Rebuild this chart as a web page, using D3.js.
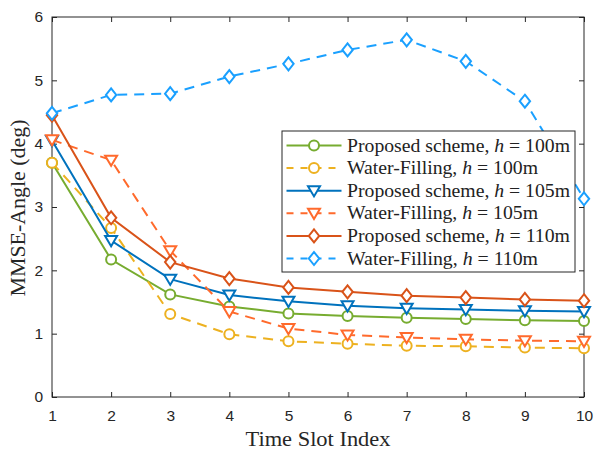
<!DOCTYPE html>
<html>
<head>
<meta charset="utf-8">
<script src="https://cdn.jsdelivr.net/npm/d3@7"></script>
<style>
  body { margin: 0; background: #fff; }
  svg { display: block; }
</style>
</head>
<body>
<svg id="chart"></svg>
<script>
// data
const slots = [1, 2, 3, 4, 5, 6, 7, 8, 9, 10];
const propH100 = [3.70, 2.17, 1.62, 1.43, 1.32, 1.28, 1.25, 1.23, 1.21, 1.20];
const wfH100   = [3.70, 2.67, 1.31, 0.99, 0.88, 0.84, 0.81, 0.80, 0.78, 0.77];
const propH105 = [4.05, 2.47, 1.86, 1.61, 1.51, 1.44, 1.40, 1.38, 1.36, 1.35];
const wfH105   = [4.06, 3.74, 2.31, 1.35, 1.08, 0.98, 0.94, 0.91, 0.89, 0.88];
const propH110 = [4.45, 2.83, 2.13, 1.87, 1.73, 1.66, 1.60, 1.57, 1.54, 1.52];
const wfH110   = [4.48, 4.77, 4.79, 5.06, 5.26, 5.48, 5.64, 5.30, 4.67, 3.13];
const xTicks = [1, 2, 3, 4, 5, 6, 7, 8, 9, 10];
const yTicks = [0, 1, 2, 3, 4, 5, 6];

const series = [
  { name: "Proposed scheme", h: "100m", values: propH100, color: "#77AC30", dash: null, marker: "circle" },
  { name: "Water-Filling", h: "100m", values: wfH100, color: "#EDB120", dash: "10,7", marker: "circle" },
  { name: "Proposed scheme", h: "105m", values: propH105, color: "#0072BD", dash: null, marker: "tri" },
  { name: "Water-Filling", h: "105m", values: wfH105, color: "#FF6A2C", dash: "10,7", marker: "tri" },
  { name: "Proposed scheme", h: "110m", values: propH110, color: "#D95319", dash: null, marker: "diamond" },
  { name: "Water-Filling", h: "110m", values: wfH110, color: "#1AA0FF", dash: "10,7", marker: "diamond" },
];

/***********************
 * dimensions
 ************************/
const width = 595, height = 451;
const margin = { top: 17, right: 11, bottom: 54, left: 52 };

const svg = d3.select("#chart")
  .attr("width", width)
  .attr("height", height)
  .attr("viewBox", [0, 0, width, height]);

const x = d3.scaleLinear().domain([1, 10]).range([margin.left, width - margin.right]);
const y = d3.scaleLinear().domain([0, 6]).range([height - margin.bottom, margin.top]);

const axisColor = "#262626";
const tickFont = "'Liberation Sans', Arial, sans-serif";
const serif = "'Liberation Serif', 'Times New Roman', serif";

/***********************
 * axes (box with inner ticks)
 ************************/
const tickLen = 5;
const axG = svg.append("g").attr("class", "axes");

const xAxis = d3.axisBottom(x).tickValues(xTicks).tickFormat(d3.format("d"))
  .tickSizeInner(-tickLen).tickSizeOuter(0).tickPadding(13);
axG.append("g").attr("transform", `translate(0,${y(0)})`).call(xAxis)
  .call(g => g.select(".domain").remove())
  .call(g => g.selectAll("text").attr("font-family", tickFont).attr("font-size", 15.5).attr("fill", axisColor))
  .call(g => g.selectAll("line").attr("stroke", axisColor));

const xTop = d3.axisTop(x).tickValues(xTicks).tickSizeInner(-tickLen).tickSizeOuter(0).tickFormat("");
axG.append("g").attr("transform", `translate(0,${y(6)})`).call(xTop)
  .call(g => g.select(".domain").remove())
  .call(g => g.selectAll("line").attr("stroke", axisColor));

const yAxis = d3.axisLeft(y).tickValues(yTicks).tickFormat(d3.format("d"))
  .tickSizeInner(-tickLen).tickSizeOuter(0).tickPadding(9);
axG.append("g").attr("transform", `translate(${x(1)},0)`).call(yAxis)
  .call(g => g.select(".domain").remove())
  .call(g => g.selectAll("text").attr("font-family", tickFont).attr("font-size", 15.5).attr("fill", axisColor))
  .call(g => g.selectAll("line").attr("stroke", axisColor));

const yRight = d3.axisRight(y).tickValues(yTicks).tickSizeInner(-tickLen).tickSizeOuter(0).tickFormat("");
axG.append("g").attr("transform", `translate(${x(10)},0)`).call(yRight)
  .call(g => g.select(".domain").remove())
  .call(g => g.selectAll("line").attr("stroke", axisColor));

axG.append("rect")
  .attr("x", x(1)).attr("y", y(6))
  .attr("width", x(10) - x(1)).attr("height", y(0) - y(6))
  .attr("fill", "none").attr("stroke", axisColor).attr("stroke-width", 1);

// axis labels
svg.append("text")
  .attr("x", (x(1) + x(10)) / 2).attr("y", 446)
  .attr("text-anchor", "middle")
  .attr("font-family", serif).attr("font-size", 21).attr("fill", axisColor)
  .attr("textLength", 145).attr("lengthAdjust", "spacingAndGlyphs")
  .text("Time Slot Index");

svg.append("text")
  .attr("transform", `translate(25,${(y(0) + y(6)) / 2 + 1}) rotate(-90)`)
  .attr("text-anchor", "middle")
  .attr("font-family", serif).attr("font-size", 21).attr("fill", axisColor)
  .attr("textLength", 177).attr("lengthAdjust", "spacingAndGlyphs")
  .text("MMSE-Angle (deg)");

/***********************
 * markers
 ************************/
function drawMarker(g, type, cx, cy, color) {
  if (type === "circle") {
    g.append("circle").attr("cx", cx).attr("cy", cy).attr("r", 5)
      .attr("fill", "#fff").attr("stroke", color).attr("stroke-width", 2);
  } else if (type === "tri") {
    const s = 6;
    g.append("path")
      .attr("d", `M${cx - s},${cy - s * 0.75}L${cx + s},${cy - s * 0.75}L${cx},${cy + s * 0.95}Z`)
      .attr("fill", "#fff").attr("stroke", color).attr("stroke-width", 2);
  } else {
    const s = 6.5;
    g.append("path")
      .attr("d", `M${cx},${cy - s}L${cx + s * 0.8},${cy}L${cx},${cy + s}L${cx - s * 0.8},${cy}Z`)
      .attr("fill", "#fff").attr("stroke", color).attr("stroke-width", 2);
  }
}

/***********************
 * lines
 ************************/
const line = d3.line().x((d, i) => x(slots[i])).y(d => y(d));
const plotG = svg.append("g");

series.forEach(s => {
  const g = plotG.append("g");
  g.append("path")
    .datum(s.values)
    .attr("d", line)
    .attr("fill", "none")
    .attr("stroke", s.color)
    .attr("stroke-width", 2)
    .attr("stroke-dasharray", s.dash);
  s.values.forEach((v, i) => drawMarker(g, s.marker, x(slots[i]), y(v), s.color));
});

/***********************
 * legend
 ************************/
const lg = svg.append("g").attr("transform", "translate(282,131)");
lg.append("rect").attr("width", 293).attr("height", 141)
  .attr("fill", "#fff").attr("stroke", axisColor).attr("stroke-width", 1);

series.forEach((s, i) => {
  const cy = 14.5 + i * 22.6;
  const row = lg.append("g");
  row.append("line")
    .attr("x1", 4.5).attr("x2", 59.5).attr("y1", cy).attr("y2", cy)
    .attr("stroke", s.color).attr("stroke-width", 2)
    .attr("stroke-dasharray", s.dash ? "7,7" : null);
  drawMarker(row, s.marker, 32, cy, s.color);
  const full = s.name.length > 14; // "Proposed scheme" rows are wider
  const t = row.append("text")
    .attr("x", 65).attr("y", cy + 6)
    .attr("font-family", serif).attr("font-size", 19.5).attr("fill", "#222")
    .attr("textLength", full ? 223 : 191).attr("lengthAdjust", "spacingAndGlyphs");
  t.append("tspan").text(s.name + ", ");
  t.append("tspan").attr("font-style", "italic").text("h");
  t.append("tspan").text(" = " + s.h);
});
</script>
</body>
</html>
